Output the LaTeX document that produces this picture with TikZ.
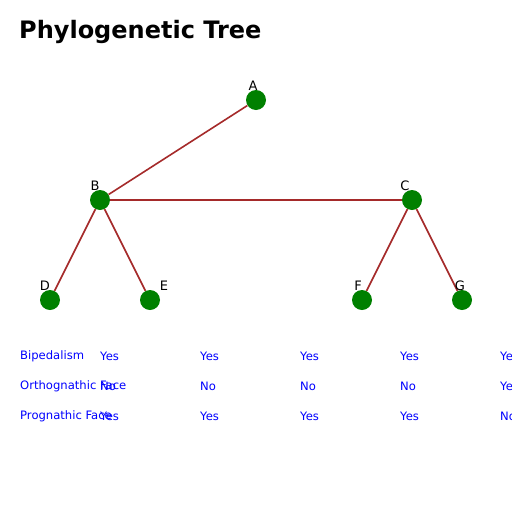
\documentclass[tikz,border=0pt]{standalone}
\usepackage{fontspec}
\setmainfont{DejaVu Sans}
\usepackage{xcolor}
\usetikzlibrary{positioning}
\definecolor{branchred}{HTML}{A52A2A}
\definecolor{taxongreen}{HTML}{008000}

\begin{document}
\begin{tikzpicture}[x=1pt, y=-1pt,
            taxon/.style={circle, fill=taxongreen, minimum size=20pt, inner sep=0pt},
            branch/.style={draw=branchred, line width=1.6pt},
            taxlbl/.style={font=\fontsize{13}{13}\selectfont, inner sep=0pt},
            trait/.style={anchor=west, text=blue, font=\fontsize{11.6}{11.6}\selectfont, inner sep=0pt},
          ]
          \useasboundingbox (0,0) rectangle (512,512);
          \node[anchor=west, font=\fontsize{24}{24}\selectfont\bfseries, inner sep=0pt] (title) at (19,32) {Phylogenetic Tree};
          % taxa
          \node[taxon] (A) at (256,100) {};
          \node[taxon] (B) at (100,200) {};
          \node[taxon] (C) at (412,200) {};
          \node[taxon] (D) at (50,300) {};
          \node[taxon] (E) at (150,300) {};
          \node[taxon] (F) at (362,300) {};
          \node[taxon] (G) at (462,300) {};
          \draw[branch] (A) -- (B);
          \draw[branch] (B) -- (C);
          \draw[branch] (B) -- (D);
          \draw[branch] (B) -- (E);
          \draw[branch] (C) -- (F);
          \draw[branch] (C) -- (G);
          \node[taxlbl] (lA) at (253,86) {A};
          \node[taxlbl] (lB) at (95,186) {B};
          \node[taxlbl] (lC) at (405,186) {C};
          \node[taxlbl] (lD) at (45,286) {D};
          \node[taxlbl] (lE) at (164,286) {E};
          \node[taxlbl] (lF) at (358,286) {F};
          \node[taxlbl] (lG) at (460,286) {G};
          % character table
          \node[trait] (r1) at (20,356) {Bipedalism};
          \node[trait] (r1a) at (100,356) {Yes};
          \node[trait] (r1b) at (200,356) {Yes};
          \node[trait] (r1c) at (300,356) {Yes};
          \node[trait] (r1d) at (400,356) {Yes};
          \node[trait] (r1e) at (500,356) {Yes};
          \node[trait] (r2) at (20,386) {Orthognathic Face};
          \node[trait] (r2a) at (100,386) {No};
          \node[trait] (r2b) at (200,386) {No};
          \node[trait] (r2c) at (300,386) {No};
          \node[trait] (r2d) at (400,386) {No};
          \node[trait] (r2e) at (500,386) {Yes};
          \node[trait] (r3) at (20,416) {Prognathic Face};
          \node[trait] (r3a) at (100,416) {Yes};
          \node[trait] (r3b) at (200,416) {Yes};
          \node[trait] (r3c) at (300,416) {Yes};
          \node[trait] (r3d) at (400,416) {Yes};
          \node[trait] (r3e) at (500,416) {No};
        \end{tikzpicture}
\end{document}
